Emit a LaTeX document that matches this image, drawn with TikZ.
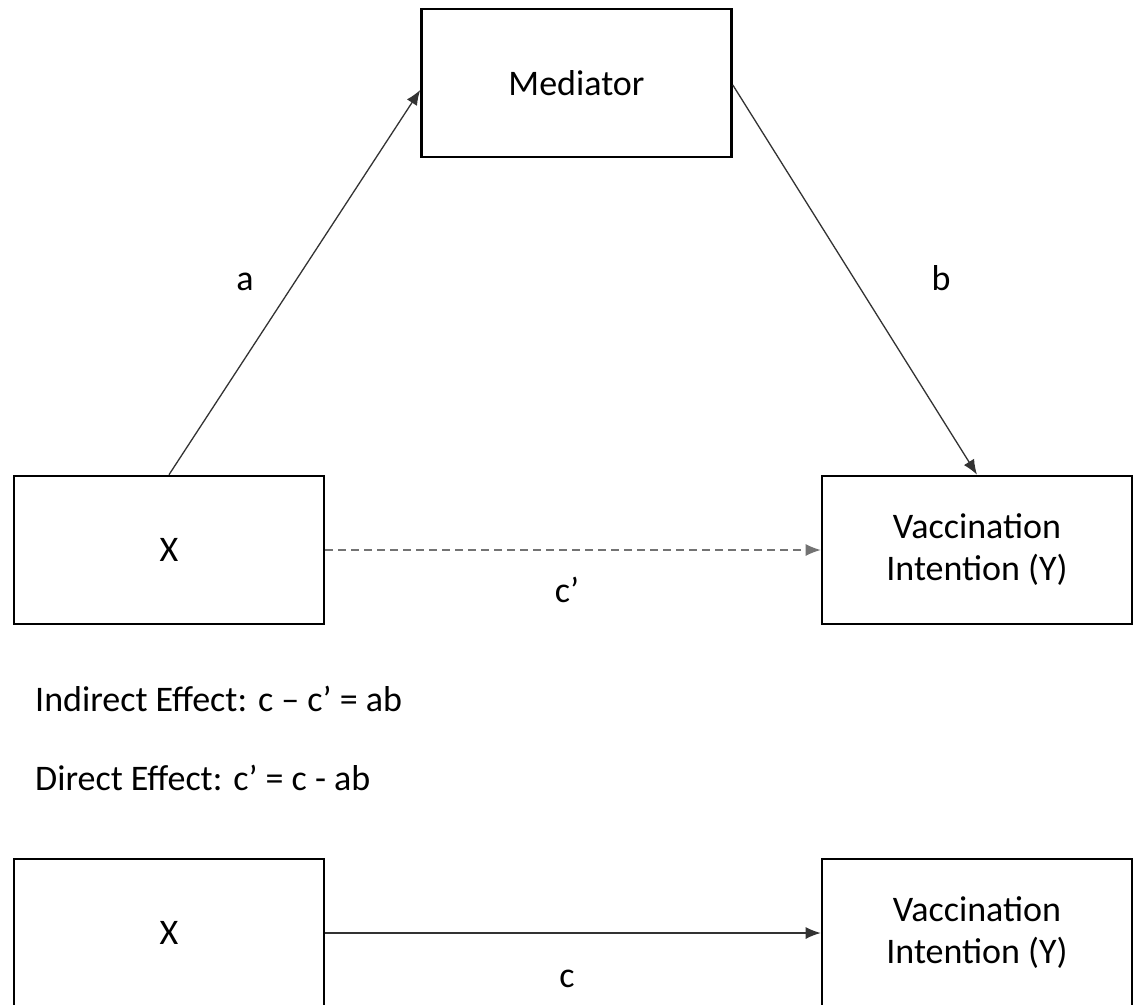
\documentclass[tikz,border=0pt]{standalone}
\usepackage{fontspec}
\setmainfont{Carlito}
\usetikzlibrary{arrows.meta,calc}
\begin{document}
\begin{tikzpicture}[x=1pt,y=-1pt,
  box/.style={draw=black,line width=2.6pt,minimum width=310pt,minimum height=148pt,inner sep=0pt,align=center,
    font=\fontsize{36}{42}\selectfont},
  conn/.style={line width=1.3pt,draw=black!80,-{Latex[length=15pt,width=12pt]}},
  dashconn/.style={conn,draw=black!55,dash pattern=on 8pt off 5pt},
  lbl/.style={font=\fontsize{36}{42}\selectfont,inner sep=0pt}]
\useasboundingbox (0,0) rectangle (1134,1004);
\fill[white] (0,0) rectangle (1134,1004);
\node[box] (med) at (576.5,83) {Mediator};
\node[box] (x1) at (169,550) {\raisebox{-2pt}{X}};
\node[box] (y1) at (977,550) {Vaccination\\Intention (Y)};
\node[box] (x2) at (169,933) {\raisebox{-4pt}{X}};
\node[box] (y2) at (977,933) {Vaccination\\Intention (Y)};
\draw[conn] (x1.north) -- ([yshift=-7pt]med.west);
\draw[conn] ([yshift=-2pt]med.east) -- (y1.north);
\draw[dashconn] (x1.east) -- (y1.west);
\draw[conn] (x2.east) -- (y2.west);
\node[lbl] (la) at (245,282) {a};
\node[lbl] (lb) at (941,278) {b};
\node[lbl] (lcp) at (567,590) {c’};
\node[lbl] (lc) at (567,979) {c};
\node[lbl,anchor=west] (ind) at (35,699) {Indirect Effect: c – c’ = ab};
\node[lbl,anchor=west] (dir) at (35,778) {Direct Effect: c’ = c - ab};
\end{tikzpicture}
\end{document}
